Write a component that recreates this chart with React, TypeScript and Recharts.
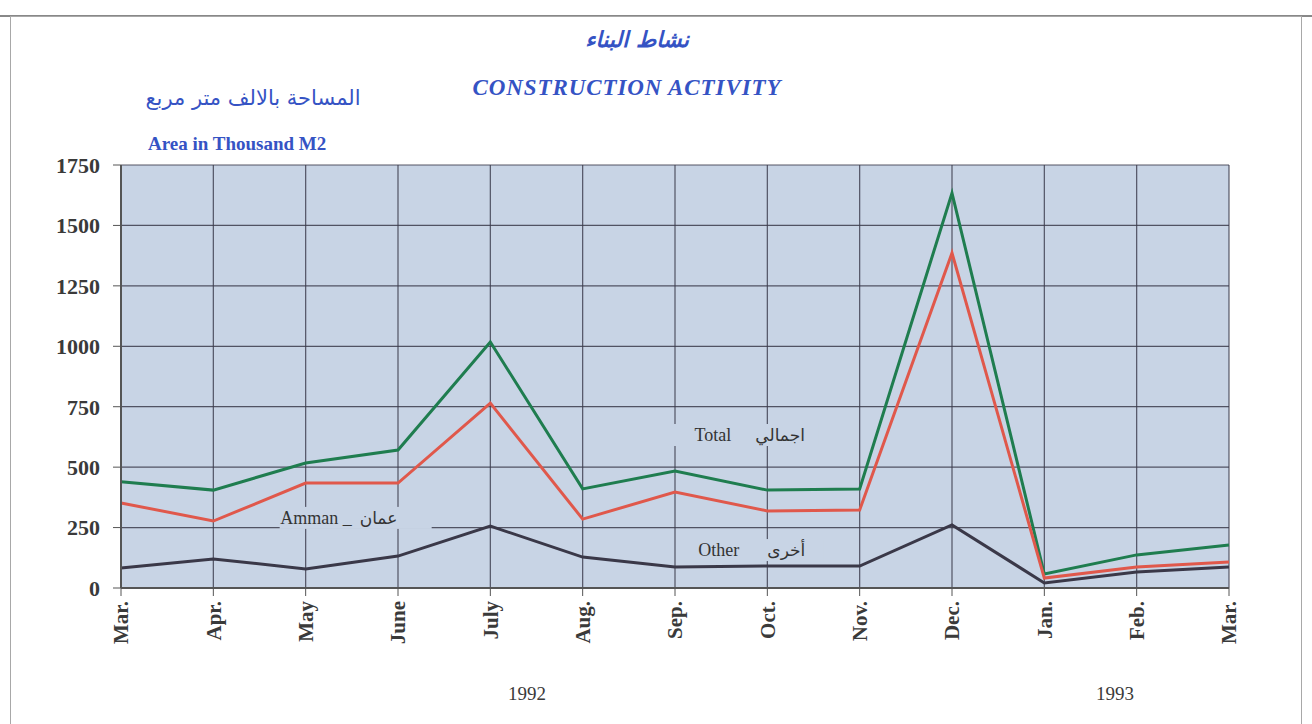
import React from "react";
import {
  LineChart,
  Line,
  XAxis,
  YAxis,
  CartesianGrid,
  ReferenceDot,
} from "recharts";

const months = ["Mar.", "Apr.", "May", "June", "July", "Aug.", "Sep.", "Oct.", "Nov.", "Dec.", "Jan.", "Feb.", "Mar."];
const totalValues = [440, 405, 517, 571, 1018, 410, 484, 405, 410, 1634, 58, 137, 178];
const ammanValues = [352, 277, 434, 434, 765, 285, 397, 319, 323, 1386, 41, 87, 108];
const otherValues = [83, 120, 79, 132, 256, 128, 87, 91, 91, 261, 21, 66, 87];
const yTicks = [0, 250, 500, 750, 1000, 1250, 1500, 1750];
const years = ["1992", "1993"];

const data = months.map((m, i) => ({
  key: `${m}|${i}`,
  total: totalValues[i],
  amman: ammanValues[i],
  other: otherValues[i],
}));

const SERIF = "'Liberation Serif', 'Times New Roman', 'DejaVu Sans', serif";
const BLUE = "#3553c4";
const BG = "#c8d4e5";
const GRID = "#3c3c4c";

const XTick = (props: any) => {
  const { x, y, payload } = props;
  const label = String(payload.value).split("|")[0];
  return (
    <text
      x={x}
      y={y + 3}
      transform={`rotate(-90, ${x}, ${y + 3})`}
      textAnchor="end"
      dy="0.35em"
      fontFamily={SERIF}
      fontWeight="bold"
      fontSize={21}
      fill="#3a3a3a"
    >
      {label}
    </text>
  );
};

const makeLabel = (en: string, ar: string, dx: number, w: number, gap: number) => (props: any) => {
  const { cx, cy } = props;
  return (
    <g>
      <rect
        x={cx + dx - w / 2}
        y={cy - 11}
        width={w}
        height={22}
        style={{ fill: BG, fillOpacity: 1, opacity: 1, stroke: "none" }}
      />
      <text
        x={cx + dx - gap / 2}
        y={cy}
        dy="0.35em"
        textAnchor="end"
        fontFamily={SERIF}
        fontSize={18}
        style={{ fill: "#333" }}
      >
        {en}
      </text>
      <text
        x={cx + dx + gap / 2}
        y={cy}
        dy="0.35em"
        textAnchor="start"
        fontFamily="'DejaVu Sans', serif"
        fontSize={17}
        style={{ fill: "#333" }}
      >
        {ar}
      </text>
    </g>
  );
};

export default function App() {
  return (
    <div style={{ position: "absolute", left: 0, top: 0, width: 1312, height: 724, background: "#fff", overflow: "hidden" }}>
      <div style={{ position: "absolute", left: 0, top: 15, width: 1312, height: 2, background: "#888" }} />
      <div
        style={{
          position: "absolute",
          left: 10,
          top: 16,
          width: 1292,
          height: 720,
          border: "1.5px solid #a8a8a8",
          boxSizing: "border-box",
        }}
      />
      <div
        style={{
          position: "absolute",
          left: 0,
          width: 1274,
          top: 27,
          textAlign: "center",
          fontFamily: "'DejaVu Sans', serif",
          fontStyle: "italic",
          fontWeight: "bold",
          fontSize: 22,
          color: BLUE,
          direction: "rtl",
        }}
      >
        نشاط البناء
      </div>
      <div
        style={{
          position: "absolute",
          left: 0,
          width: 1254,
          top: 75,
          textAlign: "center",
          fontFamily: SERIF,
          fontStyle: "italic",
          fontWeight: "bold",
          fontSize: 23,
          letterSpacing: 0.9,
          color: BLUE,
        }}
      >
        CONSTRUCTION ACTIVITY
      </div>
      <div
        style={{
          position: "absolute",
          left: 128,
          top: 86,
          width: 250,
          textAlign: "center",
          fontFamily: "'DejaVu Sans', serif",
          fontSize: 21,
          color: BLUE,
          direction: "rtl",
        }}
      >
        المساحة بالالف متر مربع
      </div>
      <div
        style={{
          position: "absolute",
          left: 148,
          top: 133,
          fontFamily: SERIF,
          fontWeight: "bold",
          fontSize: 19,
          color: BLUE,
        }}
      >
        Area in Thousand M2
      </div>
      <div style={{ position: "absolute", left: 0, top: 0 }}>
        <LineChart
          width={1312}
          height={724}
          data={data}
          margin={{ top: 165, right: 83, bottom: 0, left: 0 }}
        >
          <CartesianGrid stroke={GRID} strokeWidth={1.2} fill={BG} fillOpacity={1} strokeOpacity={0.85} />
          <XAxis
            dataKey="key"
            height={136}
            interval={0}
            tick={<XTick />}
            tickSize={8}
            axisLine={{ stroke: "#555", strokeWidth: 2 }}
            tickLine={{ stroke: "#555" }}
          />
          <YAxis
            width={121}
            domain={[0, 1750]}
            ticks={yTicks}
            tickSize={8}
            tickMargin={13}
            axisLine={{ stroke: "#555", strokeWidth: 2 }}
            tickLine={{ stroke: "#555" }}
            tick={{ fontFamily: SERIF, fontWeight: "bold", fontSize: 22, fill: "#3a3a3a" }}
          />
          <ReferenceDot x="Oct.|7" y={633} r={0} shape={makeLabel("Total", "اجمالي", -24, 150, 24)} />
          <ReferenceDot x="May|2" y={290} r={0} shape={makeLabel("Amman _", "عمان", 50, 152, 8)} />
          <ReferenceDot x="Oct.|7" y={157} r={0} shape={makeLabel("Other", "أخرى", -14, 140, 28)} />
          <Line type="linear" dataKey="total" stroke="#1f7d4f" strokeWidth={3} dot={false} isAnimationActive={false} />
          <Line type="linear" dataKey="amman" stroke="#e0584b" strokeWidth={3} dot={false} isAnimationActive={false} />
          <Line type="linear" dataKey="other" stroke="#3a3848" strokeWidth={3} dot={false} isAnimationActive={false} />
        </LineChart>
      </div>
      <div style={{ position: "absolute", left: 508, top: 683, fontFamily: SERIF, fontSize: 19, color: "#3a3a3a" }}>
        {years[0]}
      </div>
      <div style={{ position: "absolute", left: 1096, top: 683, fontFamily: SERIF, fontSize: 19, color: "#3a3a3a" }}>
        {years[1]}
      </div>
    </div>
  );
}
